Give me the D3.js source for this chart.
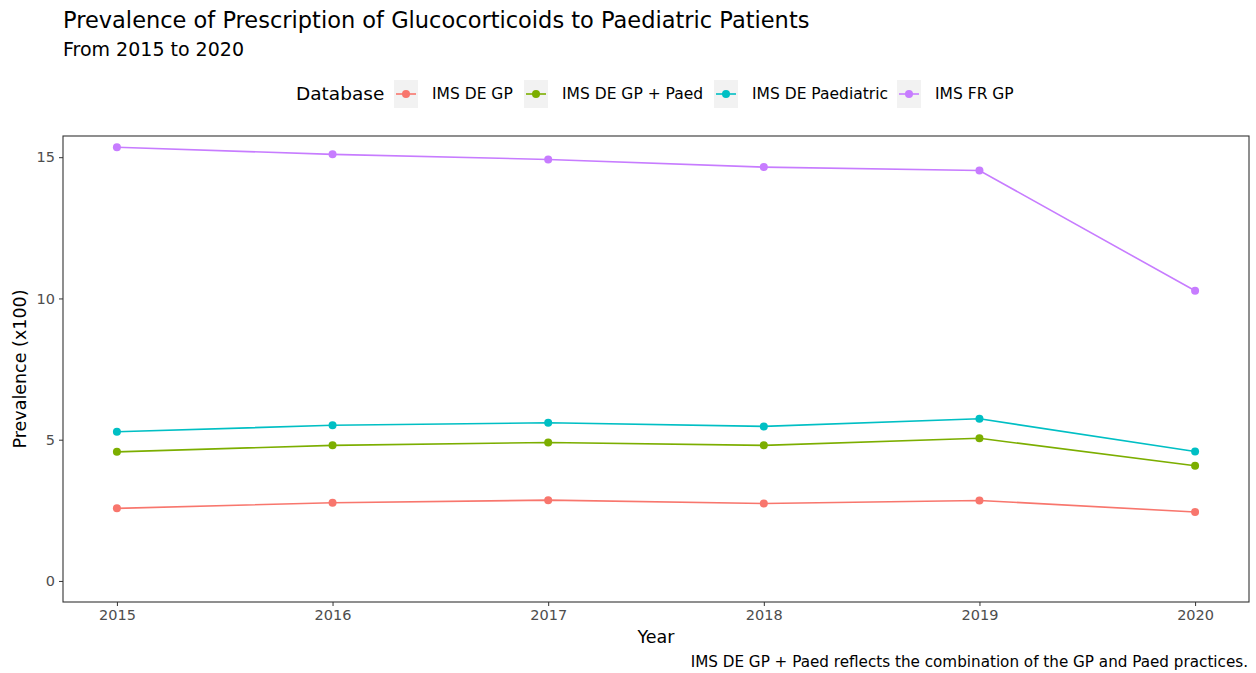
<!DOCTYPE html>
<html>
<head>
<meta charset="utf-8">
<title>Prevalence of Prescription of Glucocorticoids to Paediatric Patients</title>
<script src="https://cdn.jsdelivr.net/npm/d3@7"></script>
<style>
  body { margin: 0; background: #fff; }
  svg text { font-family: "DejaVu Sans", sans-serif; }
</style>
</head>
<body>
<svg id="svg"></svg>
<script>
// data
var years = [2015, 2016, 2017, 2018, 2019, 2020];
var databases = ["IMS DE GP", "IMS DE GP + Paed", "IMS DE Paediatric", "IMS FR GP"];
var deGP      = [2.57, 2.77, 2.86, 2.74, 2.85, 2.44];
var deGPPaed  = [4.57, 4.80, 4.90, 4.80, 5.05, 4.08];
var dePaed    = [5.28, 5.51, 5.60, 5.47, 5.74, 4.58];
var frGP      = [15.35, 15.10, 14.92, 14.65, 14.53, 10.27];
var yTicks = [0, 5, 10, 15];
var colors = ["#F8766D", "#7CAE00", "#00BFC4", "#C77CFF"];

var width = 1256, height = 673,
    margin = {top: 136, left: 63, right: 7, bottom: 71};

var series = [deGP, deGPPaed, dePaed, frGP].map(function(vals, i) {
  return {name: databases[i], color: colors[i],
          values: years.map(function(y, j) { return {year: y, value: vals[j]}; })};
});

var svg = d3.select("#svg").attr("width", width).attr("height", height);

var x = d3.scaleLinear().domain([2014.75, 2020.25])
    .range([margin.left, width - margin.right]);
var y = d3.scaleLinear().domain([-0.745, 15.75])
    .range([height - margin.bottom, margin.top]);

// titles
svg.append("text").attr("x", 63).attr("y", 28)
  .style("font-size", "22.5px").attr("fill", "#000")
  .text("Prevalence of Prescription of Glucocorticoids to Paediatric Patients");
svg.append("text").attr("x", 63).attr("y", 56)
  .style("font-size", "19px").attr("fill", "#000")
  .text("From 2015 to 2020");

// axes
var axisX = d3.axisBottom(x).tickValues(years).tickFormat(d3.format("d"))
    .tickSize(4).tickPadding(4);
var gx = svg.append("g")
  .attr("transform", "translate(0," + (height - margin.bottom) + ")")
  .call(axisX);
var axisY = d3.axisLeft(y).tickValues(yTicks).tickSize(4).tickPadding(4);
var gy = svg.append("g")
  .attr("transform", "translate(" + margin.left + ",0)")
  .call(axisY);
[gx, gy].forEach(function(g) {
  g.select(".domain").remove();
  g.selectAll(".tick line").attr("stroke", "#333").attr("stroke-width", 1);
  g.selectAll(".tick text").attr("fill", "#4d4d4d")
    .style("font-size", "14.5px");
});

// panel border
svg.append("rect")
  .attr("x", margin.left).attr("y", margin.top)
  .attr("width", width - margin.left - margin.right)
  .attr("height", height - margin.top - margin.bottom)
  .attr("fill", "none").attr("stroke", "#333").attr("stroke-width", 1.1);

// axis titles
svg.append("text").attr("x", (margin.left + width - margin.right) / 2).attr("y", 643)
  .attr("text-anchor", "middle").style("font-size", "17.5px").text("Year");
svg.append("text")
  .attr("transform", "translate(26," + ((margin.top + height - margin.bottom) / 2) + ")rotate(-90)")
  .attr("text-anchor", "middle").style("font-size", "17.5px").text("Prevalence (x100)");

// caption
svg.append("text").attr("x", 1248).attr("y", 667)
  .attr("text-anchor", "end").style("font-size", "15.2px")
  .text("IMS DE GP + Paed reflects the combination of the GP and Paed practices.");

// lines and points
var line = d3.line().x(function(d) { return x(d.year); }).y(function(d) { return y(d.value); });
var body = svg.append("g");
series.forEach(function(s) {
  body.append("path").datum(s.values)
    .attr("d", line).attr("fill", "none")
    .attr("stroke", s.color).attr("stroke-width", 1.6);
  body.selectAll(null).data(s.values).enter().append("circle")
    .attr("cx", function(d) { return x(d.year); })
    .attr("cy", function(d) { return y(d.value); })
    .attr("r", 4).attr("fill", s.color);
});

// legend
var legend = svg.append("g");
legend.append("text").attr("x", 296).attr("y", 100)
  .style("font-size", "18.5px").text("Database");
var keyX = [394, 524, 714, 897];
series.forEach(function(s, i) {
  var g = legend.append("g").attr("transform", "translate(" + keyX[i] + ",80)");
  g.append("rect").attr("width", 24).attr("height", 28).attr("fill", "#f2f2f2");
  g.append("line").attr("x1", 2).attr("x2", 22).attr("y1", 14).attr("y2", 14)
    .attr("stroke", s.color).attr("stroke-width", 1.6);
  g.append("circle").attr("cx", 12).attr("cy", 14).attr("r", 4).attr("fill", s.color);
  g.append("text").attr("x", 38).attr("y", 19).style("font-size", "15.5px").text(s.name);
});
</script>
</body>
</html>
